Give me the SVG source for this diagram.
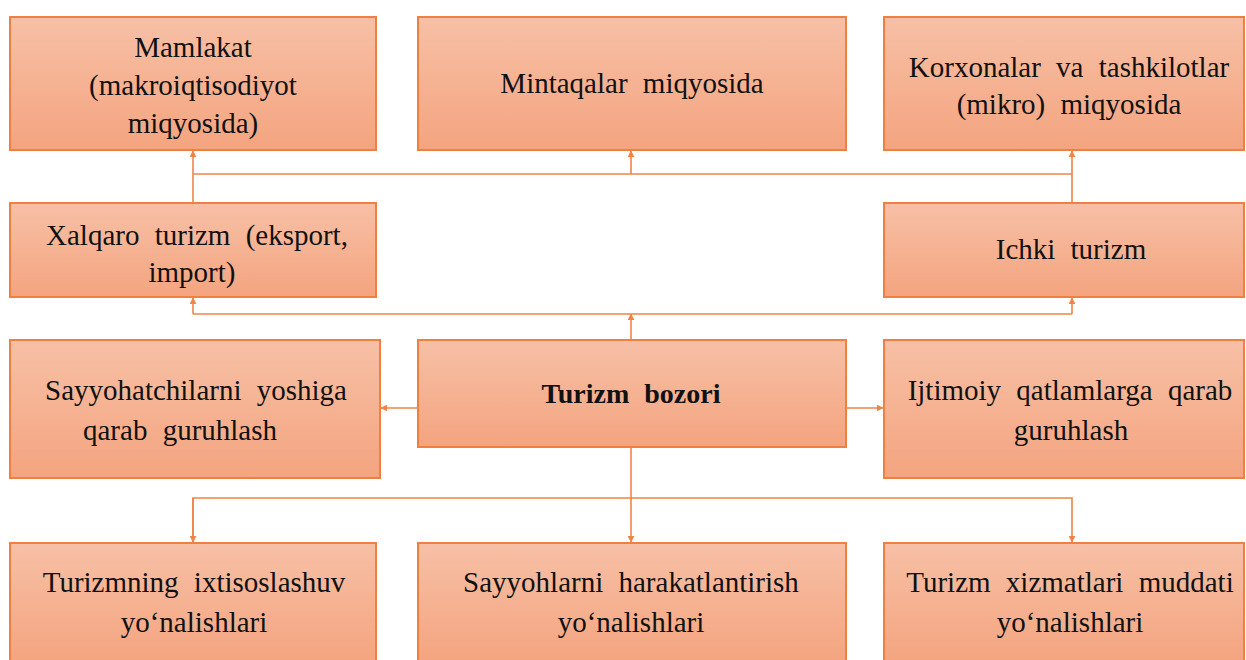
<svg xmlns="http://www.w3.org/2000/svg" width="1246" height="660" viewBox="0 0 1246 660">
<defs>
<linearGradient id="g" x1="0" y1="0" x2="0" y2="1">
<stop offset="0" stop-color="#f7c0a6"/>
<stop offset="1" stop-color="#f4a47f"/>
</linearGradient>
<marker id="ar" viewBox="0 0 10 10" refX="9" refY="5" markerWidth="7" markerHeight="7" orient="auto" markerUnits="userSpaceOnUse">
<path d="M0,0 L10,5 L0,10 z" fill="#ef8446"/>
</marker>
</defs>
<style>
.box{fill:url(#g);stroke:#ef8041;stroke-width:2}
.t{font-family:"Liberation Serif","Times New Roman",serif;font-size:29px;fill:#111;text-anchor:middle;word-spacing:8px}
.b{font-weight:bold;font-size:28px}
.c{fill:none;stroke:#ef8446;stroke-width:1.6}
</style>
<g id="connectors">
<path class="c" d="M193,203 V151" marker-end="url(#ar)"/>
<path class="c" d="M193,174 H1072"/>
<path class="c" d="M1072,203 V151" marker-end="url(#ar)"/>
<path class="c" d="M631,174 V151" marker-end="url(#ar)"/>
<path class="c" d="M193,314 H1072"/>
<path class="c" d="M193,314 V298" marker-end="url(#ar)"/>
<path class="c" d="M1072,314 V298" marker-end="url(#ar)"/>
<path class="c" d="M631,340 V314" marker-end="url(#ar)"/>
<path class="c" d="M418,408 H381" marker-end="url(#ar)"/>
<path class="c" d="M846,408 H883" marker-end="url(#ar)"/>
<path class="c" d="M631,447 V542" marker-end="url(#ar)"/>
<path class="c" d="M193,542 V498 H1072 V542" marker-end="url(#ar)"/>
<path class="c" d="M193,498 V542" marker-end="url(#ar)"/>
</g>
<g id="n1"><rect class="box" x="10" y="17" width="366" height="133"/>
<text class="t"><tspan x="193" y="57">Mamlakat</tspan><tspan x="193" y="95">(makroiqtisodiyot</tspan><tspan x="193" y="133">miqyosida)</tspan></text></g>
<g id="n2"><rect class="box" x="418" y="17" width="428" height="133"/>
<text class="t" x="632" y="93">Mintaqalar miqyosida</text></g>
<g id="n3"><rect class="box" x="884" y="17" width="360" height="133"/>
<text class="t"><tspan x="1069" y="77">Korxonalar va tashkilotlar</tspan><tspan x="1069" y="114">(mikro) miqyosida</tspan></text></g>
<g id="n4"><rect class="box" x="10" y="203" width="366" height="94"/>
<text class="t"><tspan x="197" y="245">Xalqaro turizm (eksport,</tspan><tspan x="192" y="282">import)</tspan></text></g>
<g id="n5"><rect class="box" x="884" y="203" width="360" height="94"/>
<text class="t" x="1071" y="259">Ichki turizm</text></g>
<g id="n6"><rect class="box" x="10" y="340" width="370" height="138"/>
<text class="t"><tspan x="196" y="400">Sayyohatchilarni yoshiga</tspan><tspan x="180" y="440">qarab guruhlash</tspan></text></g>
<g id="n7"><rect class="box" x="418" y="340" width="428" height="107"/>
<text class="t b" x="631" y="403">Turizm bozori</text></g>
<g id="n8"><rect class="box" x="884" y="340" width="360" height="138"/>
<text class="t"><tspan x="1070" y="400">Ijtimoiy qatlamlarga qarab</tspan><tspan x="1071" y="440">guruhlash</tspan></text></g>
<g id="n9"><rect class="box" x="10" y="543" width="366" height="120"/>
<text class="t"><tspan x="194" y="592">Turizmning ixtisoslashuv</tspan><tspan x="194" y="632">yoʻnalishlari</tspan></text></g>
<g id="n10"><rect class="box" x="418" y="543" width="428" height="120"/>
<text class="t"><tspan x="631" y="592">Sayyohlarni harakatlantirish</tspan><tspan x="631" y="632">yoʻnalishlari</tspan></text></g>
<g id="n11"><rect class="box" x="884" y="543" width="360" height="120"/>
<text class="t"><tspan x="1070" y="592">Turizm xizmatlari muddati</tspan><tspan x="1070" y="632">yoʻnalishlari</tspan></text></g>
</svg>
